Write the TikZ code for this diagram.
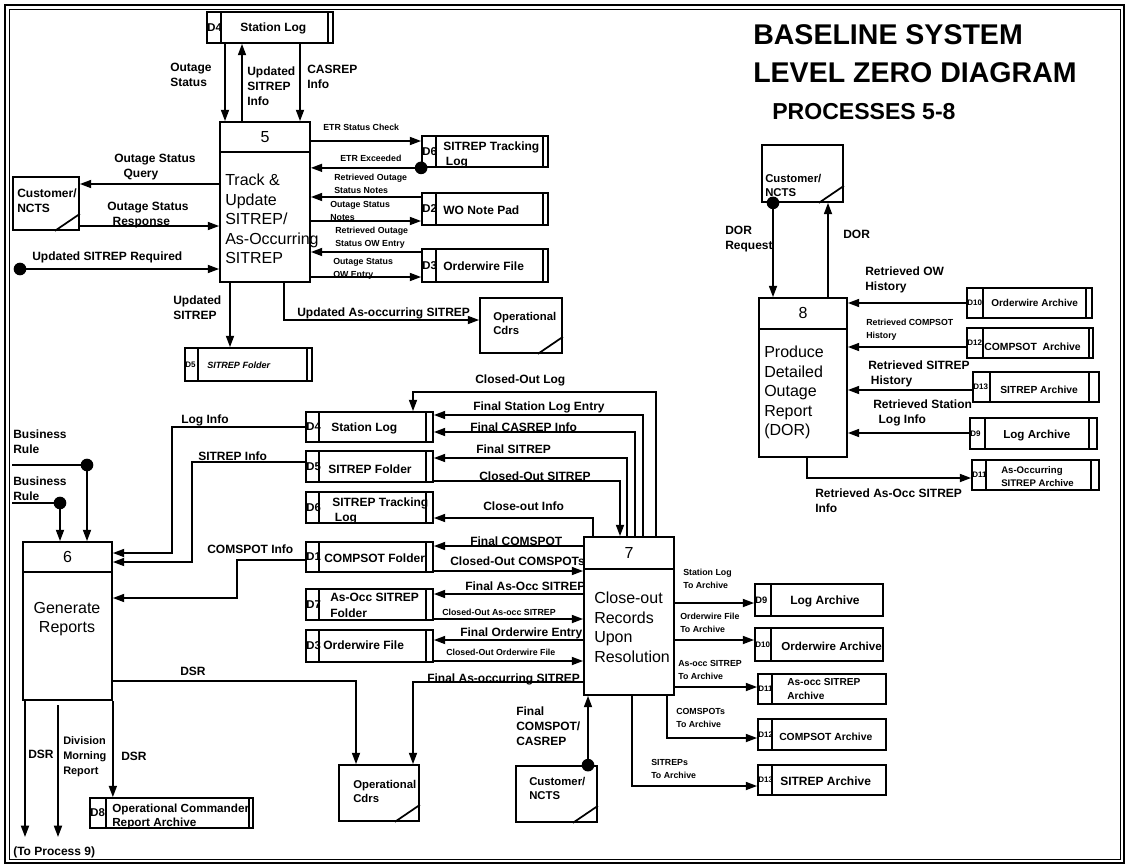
\documentclass[tikz,border=0pt]{standalone}
\usepackage{fontspec}
\setmainfont{Liberation Sans}
\usetikzlibrary{arrows.meta,calc}

% generic box: style, name, x1, y1, x2, y2 (pixel coordinates)
\newcommand{\dfdbox}[6]{%
  \node[#1, minimum width={(#5-#3)*0.75pt}, minimum height={(#6-#4)*0.75pt}] (#2) at ({(#3+#5)/2},{(#4+#6)/2}) {};}
% data store: name, x1, y1, x2, y2, compartment width, id font size, id
\newcommand{\dstore}[8]{%
  \node[storebox, minimum width={(#4-#2)*0.75pt}, minimum height={(#5-#3)*0.75pt}] (#1) at ({(#2+#4)/2},{(#3+#5)/2}) {};
  \draw[ln] ($(#1.north west)+(#6,0)$) -- ($(#1.south west)+(#6,0)$);
  \node[idtxt, font=\bfseries\fontsize{#7}{#7}\selectfont] (#1id) at ($(#1.west)+(1,0)$) {#8};}
\newcommand{\dfdrline}[2]{%
  \draw[thinln] ($(#1.north east)+(-#2,0)$) -- ($(#1.south east)+(-#2,0)$);}

\begin{document}
\begin{tikzpicture}[x=0.75pt,y=-0.75pt,
  ln/.style={line width=1.3pt},
  thinln/.style={line width=1pt},
  arr/.style={ln,-{Triangle[length=8.5pt,width=6pt]}},
  dot/.style={circle,fill=black,inner sep=0pt,minimum size=9.5pt},
  storebox/.style={draw,line width=1.3pt,inner sep=0pt},
  entbox/.style={draw,line width=1.3pt,inner sep=0pt},
  procbox/.style={draw,line width=1.3pt,inner sep=0pt},
  idtxt/.style={anchor=west,inner sep=0pt},
  lbl/.style={font=\bfseries\fontsize{9}{11.25}\selectfont,inner sep=0pt,anchor=north west,align=left},
  slbl/.style={font=\bfseries\fontsize{6.6}{9.75}\selectfont,inner sep=0pt,anchor=north west,align=left},
  mlbl/.style={font=\bfseries\fontsize{8.2}{11.25}\selectfont,inner sep=0pt,anchor=north west,align=left},
  elbl/.style={font=\bfseries\fontsize{8.5}{10.5}\selectfont,inner sep=0pt,anchor=north west,align=left},
  stxt/.style={font=\bfseries\fontsize{9}{11.25}\selectfont,inner sep=0pt,anchor=west,align=left},
  ptxt/.style={font=\fontsize{12}{14.6}\selectfont,inner sep=0pt,anchor=north west,align=left},
  pnum/.style={font=\fontsize{12}{14}\selectfont,inner sep=0pt},
  title/.style={font=\bfseries\fontsize{21.4}{24}\selectfont,inner sep=0pt,anchor=west},
  subtitle/.style={font=\bfseries\fontsize{17.3}{20}\selectfont,inner sep=0pt,anchor=west}]
\useasboundingbox (0,0) rectangle (1128,867);
\draw[line width=1.6pt] (5,5) rectangle (1124,863);
\draw[line width=0.6pt] (9,9) rectangle (1120,859);

% title
\node[title] (t1) at (753,35) {BASELINE SYSTEM};
\node[title] (t2) at (753,73) {LEVEL ZERO DIAGRAM};
\node[subtitle] (t3) at (772,112) {PROCESSES 5-8};

% processes
\dfdbox{procbox}{p5}{220}{122}{310}{282}
\dfdbox{procbox}{p6}{23}{542}{112}{700}
\dfdbox{procbox}{p7}{584}{537}{674}{695}
\dfdbox{procbox}{p8}{759}{298}{847}{457}
\foreach \p/\h in {p5/31,p6/31,p7/33,p8/32}
  \draw[ln] ($(\p.north west)+(0,\h)$) -- ($(\p.north east)+(0,\h)$);
\node[pnum] (p5n) at ($(p5.north)+(0,16)$) {5};
\node[pnum] (p6n) at ($(p6.north)+(0,16)$) {6};
\node[pnum] (p7n) at ($(p7.north)+(0,17)$) {7};
\node[pnum] (p8n) at ($(p8.north)+(0,16)$) {8};
\node[ptxt] (p5t) at (225,174) {Track \&\\Update\\SITREP/\\As-Occurring\\SITREP};
\node[ptxt,align=center,anchor=north] (p6t) at (67,602) {Generate\\Reports};
\node[ptxt] (p7t) at (594,592) {Close-out\\Records\\Upon\\Resolution};
\node[ptxt] (p8t) at (764,346) {Produce\\Detailed\\Outage\\Report\\(DOR)};

% external entities
\dfdbox{entbox}{c1}{13}{177}{79}{230}
\dfdbox{entbox}{c2}{762}{145}{843}{202}
\dfdbox{entbox}{c3}{516}{766}{597}{822}
\dfdbox{entbox}{o1}{480}{298}{562}{353}
\dfdbox{entbox}{o2}{339}{765}{419}{821}
\foreach \e in {c1,c2,c3,o1,o2}
  \draw[ln] ($(\e.south east)+(-25,0)$) -- ($(\e.south east)+(0,-17)$);
\node[lbl] (c1t) at (17,189) {Customer/\\NCTS};
\node[elbl] (c2t) at (765,174) {Customer/\\NCTS};
\node[elbl] (c3t) at (529,777) {Customer/\\NCTS};
\node[elbl] (o1t) at (493,312) {Operational\\Cdrs};
\node[elbl] (o2t) at (353,780) {Operational\\Cdrs};

% data stores (top)
\dstore{s4a}{207}{12}{333}{43}{15}{8.5}{D4} \dfdrline{s4a}{6}
\node[stxt] (s4at) at (240,28) {Station Log};
\dstore{s6a}{422}{136}{548}{167}{15}{8.5}{D6} \dfdrline{s6a}{6}
\node[stxt,anchor=north west] (s6at) at (443,142) {SITREP Tracking\\\hspace*{2pt}Log};
\dstore{s2a}{422}{193}{548}{225}{15}{8.5}{D2} \dfdrline{s2a}{6}
\node[stxt] (s2at) at (443,210) {WO Note Pad};
\dstore{s3a}{422}{249}{548}{282}{15}{8.5}{D3} \dfdrline{s3a}{6}
\node[stxt] (s3at) at (443,266) {Orderwire File};
\dstore{s5a}{185}{348}{312}{381}{14}{6}{D5} \dfdrline{s5a}{6}
\node[stxt,font=\bfseries\itshape\fontsize{6.8}{8}\selectfont] (s5at) at (207,365) {SITREP Folder};

% data stores (middle)
\dstore{s4b}{306}{412}{433}{442}{14}{8.5}{D4} \dfdrline{s4b}{8}
\node[stxt] (s4bt) at (331,428) {Station Log};
\dstore{s5b}{306}{451}{433}{482}{14}{8.5}{D5} \dfdrline{s5b}{8}
\node[stxt] (s5bt) at (328,469) {SITREP Folder};
\dstore{s6b}{306}{492}{433}{523}{14}{8.5}{D6} \dfdrline{s6b}{8}
\node[stxt,anchor=north west] (s6bt) at (332,498) {SITREP Tracking\\\hspace*{2pt}Log};
\dstore{s1b}{306}{542}{433}{572}{14}{8.5}{D1} \dfdrline{s1b}{8}
\node[stxt] (s1bt) at (324,558) {COMPSOT Folder};
\dstore{s7b}{306}{589}{433}{620}{14}{8.5}{D7} \dfdrline{s7b}{8}
\node[stxt,anchor=north west,font=\bfseries\fontsize{9}{12}\selectfont] (s7bt) at (330,593) {As-Occ SITREP\\Folder};
\dstore{s3b}{306}{630}{433}{662}{14}{8.5}{D3} \dfdrline{s3b}{8}
\node[stxt] (s3bt) at (323,645) {Orderwire File};
\dstore{s8}{90}{798}{253}{828}{17}{8.5}{D8} \dfdrline{s8}{5}
\node[stxt,anchor=north west,font=\bfseries\fontsize{8.8}{10.5}\selectfont] (s8t) at (112,804) {Operational Commander\\Report Archive};

% data stores (right, process 8)
\dstore{r10}{967}{288}{1092}{318}{17}{6}{D10} \dfdrline{r10}{7}
\node[stxt,font=\bfseries\fontsize{7.5}{9}\selectfont] (r10t) at (991,303) {Orderwire Archive};
\dstore{r12}{967}{328}{1093}{358}{17}{6}{D12} \dfdrline{r12}{5}
\node[stxt,font=\bfseries\fontsize{7.8}{9}\selectfont] (r12t) at (984,347) {COMPSOT~~Archive};
\dstore{r13}{973}{372}{1099}{402}{18}{6}{D13} \dfdrline{r13}{11}
\node[stxt,font=\bfseries\fontsize{7.7}{9}\selectfont] (r13t) at (1000,390) {SITREP Archive};
\dstore{r9}{970}{418}{1097}{449}{16}{6}{D9} \dfdrline{r9}{9}
\node[stxt,font=\bfseries\fontsize{8.7}{10}\selectfont] (r9t) at (1003,436) {Log Archive};
\dstore{r11}{972}{460}{1099}{490}{15}{6}{D11} \dfdrline{r11}{9}
\node[stxt,anchor=north west,font=\bfseries\fontsize{7.2}{9.75}\selectfont] (r11t) at (1001,466) {As-Occurring\\SITREP Archive};

% data stores (bottom right, archives)
\dstore{b9}{755}{584}{883}{616}{17}{7}{D9}
\node[stxt] (b9t) at (790,601) {Log Archive};
\dstore{b10}{755}{628}{883}{661}{17}{6}{D10}
\node[stxt,font=\bfseries\fontsize{8.7}{10}\selectfont] (b10t) at (781,646) {Orderwire Archive};
\dstore{b11}{758}{674}{886}{704}{15}{6}{D11}
\node[stxt,anchor=north west,font=\bfseries\fontsize{7.6}{10.5}\selectfont] (b11t) at (787,678) {As-occ SITREP\\Archive};
\dstore{b12}{758}{719}{886}{750}{15}{6}{D12}
\node[stxt,font=\bfseries\fontsize{7.75}{9}\selectfont] (b12t) at (779,737) {COMPSOT Archive};
\dstore{b13}{758}{765}{886}{795}{15}{6}{D13}
\node[stxt] (b13t) at (780,781) {SITREP Archive};

% dots and free ends
\node[dot] (dt1) at (20,269) {};
\node[dot] (dt2) at (s6a.south west) {};
\node[dot] (dt3) at (773,0 |- c2.south) {};
\node[dot] (dt4) at (588,0 |- c3.north) {};
\node[dot] (dt5) at (87,465) {};
\node[dot] (dt6) at (60,503) {};
\coordinate (br1) at (12,465);
\coordinate (br2) at (12,503);
\coordinate (tp1) at (25,837);
\coordinate (tp2) at (58,837);
\coordinate (dm0) at (58,705);

% connectors: process 5
\draw[arr] (225,0 |- s4a.south) -- (225,0 |- p5.north);
\draw[arr] (242,0 |- p5.north) -- (242,0 |- s4a.south);
\draw[arr] (300,0 |- s4a.south) -- (300,0 |- p5.north);
\draw[arr] (p5.west |- 0,184) -- (c1.east |- 0,184);
\draw[arr] (c1.east |- 0,226) -- (p5.west |- 0,226);
\draw[arr] (dt1.center) -- (p5.west |- dt1);
\draw[arr] (p5.east |- 0,141) -- (s6a.west |- 0,141);
\draw[arr] (dt2.center) -- (p5.east |- dt2);
\draw[arr] (s2a.west |- 0,197) -- (p5.east |- 0,197);
\draw[arr] (p5.east |- 0,221) -- (s2a.west |- 0,221);
\draw[arr] (s3a.west |- 0,252) -- (p5.east |- 0,252);
\draw[arr] (p5.east |- 0,277) -- (s3a.west |- 0,277);
\draw[arr] (230,0 |- p5.south) -- (230,0 |- s5a.north);
\draw[arr] (284,0 |- p5.south) |- (o1.west |- 0,320);

% connectors: process 8
\draw[arr] (dt3.center) -- (dt3 |- p8.north);
\draw[arr] (828,0 |- p8.north) -- (828,0 |- c2.south);
\draw[arr] (r10.west |- 0,303) -- (p8.east |- 0,303);
\draw[arr] (r12.west |- 0,347) -- (p8.east |- 0,347);
\draw[arr] (r13.west |- 0,390) -- (p8.east |- 0,390);
\draw[arr] (r9.west |- 0,433) -- (p8.east |- 0,433);
\draw[arr] (807,0 |- p8.south) |- (r11.west |- 0,478);

% connectors: process 7
\draw[arr] (656,0 |- p7.north) -- (656,392) -| (413,0 |- s4b.north);
\draw[arr] (643,0 |- p7.north) |- (s4b.east |- 0,415);
\draw[arr] (635,0 |- p7.north) |- (s4b.east |- 0,432);
\draw[arr] (627,0 |- p7.north) |- (s5b.east |- 0,458);
\draw[arr] (s5b.east |- 0,481) -| (620,0 |- p7.north);
\draw[arr] (593,0 |- p7.north) |- (s6b.east |- 0,518);
\draw[arr] (p7.west |- 0,546) -- (s1b.east |- 0,546);
\draw[arr] (s1b.east |- 0,571) -- (p7.west |- 0,571);
\draw[arr] (p7.west |- 0,594) -- (s7b.east |- 0,594);
\draw[arr] (s7b.east |- 0,619) -- (p7.west |- 0,619);
\draw[arr] (p7.west |- 0,640) -- (s3b.east |- 0,640);
\draw[arr] (s3b.east |- 0,661) -- (p7.west |- 0,661);
\draw[arr] (p7.west |- 0,682) -| (413,0 |- o2.north);
\draw[arr] (dt4.center) -- (dt4 |- p7.south);
\draw[arr] (p7.east |- 0,603) -- (b9.west |- 0,603);
\draw[arr] (p7.east |- 0,640) -- (b10.west |- 0,640);
\draw[arr] (p7.east |- 0,687) -- (b11.west |- 0,687);
\draw[arr] (667,0 |- p7.south) |- (b12.west |- 0,738);
\draw[arr] (632,0 |- p7.south) |- (b13.west |- 0,786);

% connectors: process 6
\draw[arr] (s4b.west |- 0,427) -| (172,553) -- (p6.east |- 0,553);
\draw[arr] (s5b.west |- 0,462) -| (192,562) -- (p6.east |- 0,562);
\draw[arr] (s1b.west |- 0,560) -| (237,598) -- (p6.east |- 0,598);
\draw[arr] (p6.east |- 0,681) -| (356,0 |- o2.north);
\draw[ln] (br1) -- (dt5.center);
\draw[arr] (dt5.center) -- (dt5 |- p6.north);
\draw[ln] (br2) -- (dt6.center);
\draw[arr] (dt6.center) -- (dt6 |- p6.north);
\draw[arr] (25,0 |- p6.south) -- (tp1);
\draw[arr] (dm0) -- (tp2);
\draw[arr] (p6.south east) -- (p6.south east |- s8.north);

% labels
\node[lbl] (l1) at (170,63) {Outage\\Status};
\node[lbl] (l2) at (247,67) {Updated\\SITREP\\Info};
\node[lbl] (l3) at (307,65) {CASREP\\Info};
\node[lbl] (l4) at (114,154) {Outage Status\\\hspace*{7pt}Query};
\node[lbl] (l5) at (107,202) {Outage Status\\\hspace*{4pt}Response};
\node[lbl] (l6) at (32,252) {Updated SITREP Required};
\node[slbl] (l7) at (323,124) {ETR Status Check};
\node[slbl] (l8) at (340,155) {ETR Exceeded};
\node[slbl] (l9) at (334,174) {Retrieved Outage\\Status Notes};
\node[slbl] (l10) at (330,201) {Outage Status\\Notes};
\node[slbl] (l11) at (335,227) {Retrieved Outage\\Status OW Entry};
\node[slbl] (l12) at (333,258) {Outage Status\\OW Entry};
\node[lbl] (l13) at (173,296) {Updated\\SITREP};
\node[lbl] (l14) at (297,308) {Updated As-occurring SITREP};
\node[lbl] (l15) at (725,226) {DOR\\Request};
\node[lbl] (l16) at (843,230) {DOR};
\node[lbl] (l17) at (865,267) {Retrieved OW\\History};
\node[slbl] (l18) at (866,319) {Retrieved COMPSOT\\History};
\node[lbl] (l19) at (868,361) {Retrieved SITREP\\\hspace*{2pt}History};
\node[lbl] (l20) at (873,400) {Retrieved Station\\\hspace*{4pt}Log Info};
\node[lbl] (l21) at (815,489) {Retrieved As-Occ SITREP\\Info};
\node[lbl] (l22) at (475,375) {Closed-Out Log};
\node[lbl] (l23) at (473,402) {Final Station Log Entry};
\node[lbl] (l24) at (470,423) {Final CASREP Info};
\node[lbl] (l25) at (181,415) {Log Info};
\node[lbl] (l26) at (198,452) {SITREP Info};
\node[lbl] (l27) at (476,445) {Final SITREP};
\node[lbl] (l28) at (479,472) {Closed-Out SITREP};
\node[lbl] (l29) at (483,502) {Close-out Info};
\node[lbl] (l30) at (470,537) {Final COMSPOT};
\node[lbl] (l31) at (450,557) {Closed-Out COMSPOTs};
\node[lbl] (l32) at (207,545) {COMSPOT Info};
\node[lbl] (l33) at (465,582) {Final As-Occ SITREP};
\node[slbl] (l34) at (442,609) {Closed-Out As-occ SITREP};
\node[lbl] (l35) at (460,628) {Final Orderwire Entry};
\node[slbl] (l36) at (446,649) {Closed-Out Orderwire File};
\node[lbl] (l37) at (427,674) {Final As-occurring SITREP};
\node[lbl] (l38) at (180,667) {DSR};
\node[lbl] (l39) at (516,707) {Final\\COMSPOT/\\CASREP};
\node[slbl] (l40) at (683,569) {Station Log\\To Archive};
\node[slbl] (l41) at (680,613) {Orderwire File\\To Archive};
\node[slbl] (l42) at (678,660) {As-occ SITREP\\To Archive};
\node[slbl] (l43) at (676,708) {COMSPOTs\\To Archive};
\node[slbl] (l44) at (651,759) {SITREPs\\To Archive};
\node[lbl] (l45) at (13,430) {Business\\Rule};
\node[lbl] (l46) at (13,477) {Business\\Rule};
\node[lbl] (l47) at (28,750) {DSR};
\node[mlbl] (l48) at (63,736) {Division\\Morning\\Report};
\node[lbl] (l49) at (121,752) {DSR};
\node[lbl] (l50) at (13,847) {(To Process 9)};
\end{tikzpicture}
\end{document}
